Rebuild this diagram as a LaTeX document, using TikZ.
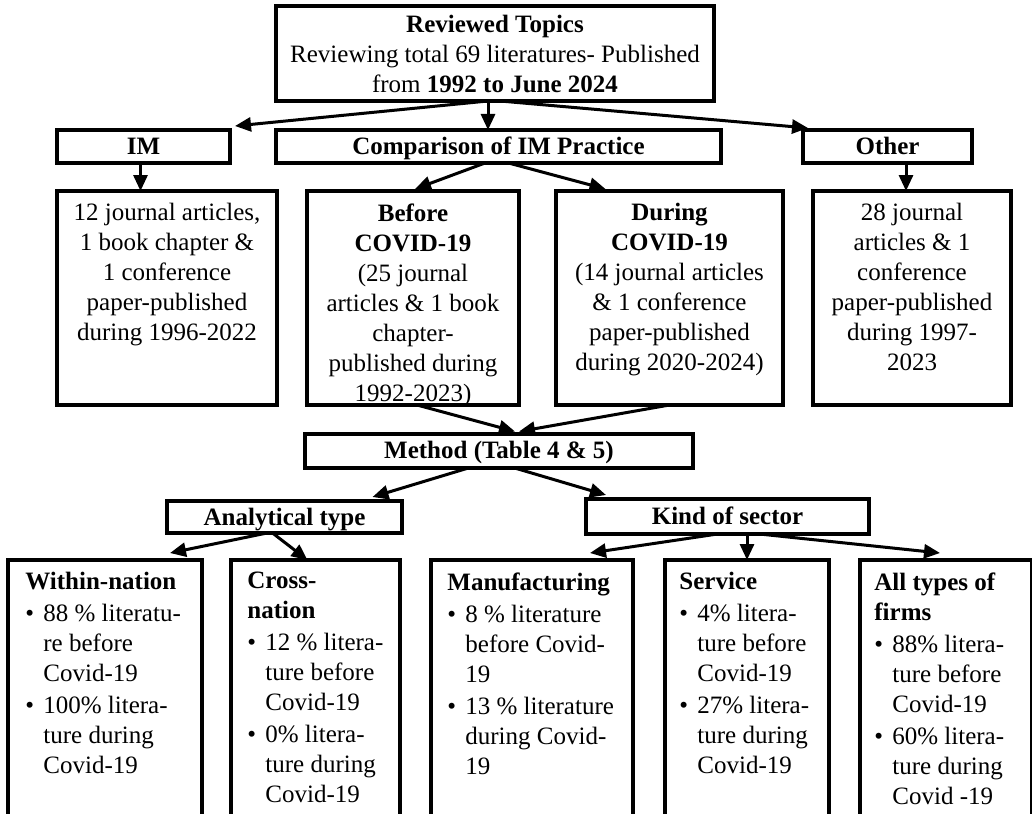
\documentclass[tikz,border=0pt]{standalone}
\usepackage{fontspec}
\setmainfont{Liberation Serif}
\usetikzlibrary{arrows.meta,calc}
\newcommand\bul{\makebox[9pt][l]{\textbullet}}
\newcommand\ind{\hspace*{9pt}}
\begin{document}
\begin{tikzpicture}[x=0.5pt,y=-0.5pt,
 box/.style={draw,line width=2pt,inner sep=0pt,outer sep=0pt},
 arr/.style={line width=1.5pt,-{Triangle[length=8pt,width=7pt]}},
 txt/.style={font=\fontsize{12.5}{15}\selectfont,align=center,inner sep=0pt},
 one/.style={txt,text height=8.3pt,text depth=0pt},
 ltxt/.style={font=\fontsize{12.5}{15}\selectfont,align=left,inner sep=0pt,anchor=north west},
 ctxt/.style={font=\fontsize{12.5}{15}\selectfont,align=center,inner sep=0pt,anchor=north},
]
\useasboundingbox (0,0) rectangle (1032,813);
\fill[white] (0,0) rectangle (1032,813);
\clip (0,0) rectangle (1032,813);

% level 0
\node[box,minimum width=219pt,minimum height=47.5pt] (top) at (495,53.5) {};
\node[txt] (toptxt) at (top) {\textbf{Reviewed Topics}\\Reviewing total 69 literatures- Published\\from \textbf{1992 to June 2024}};

% level 1
\node[box,minimum width=86.5pt,minimum height=16.5pt,one] (im) at (143.5,146.5) {\textbf{IM}};
\node[box,minimum width=222.5pt,minimum height=16.5pt,one] (comp) at (498.5,146.5) {\textbf{Comparison of IM Practice}};
\node[box,minimum width=84.5pt,minimum height=16.5pt,one] (other) at (887.5,146.5) {\textbf{Other}};

% level 2
\node[box,minimum width=110pt,minimum height=107pt] (imd) at (167,298) {};
\node[ctxt] (imdt) at ([yshift=-6pt]imd.north) {12 journal articles,\\1 book chapter \&\\1 conference\\paper-published\\during 1996-2022};
\node[box,minimum width=106pt,minimum height=107pt] (before) at (413,298) {};
\node[ctxt] (beforet) at ([yshift=-6pt]before.north) {\textbf{Before}\\\textbf{COVID-19}\\(25 journal\\articles \& 1 book\\chapter-\\published during\\1992-2023)};
\node[box,minimum width=113.5pt,minimum height=107pt] (during) at (669.5,298) {};
\node[ctxt] (duringt) at ([yshift=-6pt]during.north) {\textbf{During}\\\textbf{COVID-19}\\(14 journal articles\\\& 1 conference\\paper-published\\during 2020-2024)};
\node[box,minimum width=99pt,minimum height=107pt] (otherd) at (912,298) {};
\node[ctxt] (otherdt) at ([yshift=-6pt]otherd.north) {28 journal\\articles \& 1\\conference\\paper-published\\during 1997-\\2023};

% level 3
\node[box,minimum width=194pt,minimum height=17pt,one] (method) at (499,450.5) {\textbf{Method (Table 4 \& 5)}};

% level 4
\node[box,minimum width=117.5pt,minimum height=16pt,one] (anal) at (284.5,517) {\textbf{Analytical type}};
\node[box,minimum width=141.5pt,minimum height=17.5pt,one] (kind) at (727.5,516.5) {\textbf{Kind of sector}};

% level 5
\node[box,minimum width=97pt,minimum height=140pt] (within) at (105,700) {};
\node[ltxt] (withint) at ([xshift=8.5pt,yshift=-6pt]within.north west) {\textbf{Within-nation}\\[1pt]
\bul 88 \% literatu-\\\ind re before\\\ind Covid-19\\[1pt]
\bul 100\% litera-\\\ind ture during\\\ind Covid-19};
\node[box,minimum width=84.5pt,minimum height=140pt] (cross) at (315.5,700) {};
\node[ltxt] (crosst) at ([xshift=8pt,yshift=-6pt]cross.north west) {\textbf{Cross-}\\\textbf{nation}\\[1pt]
\bul 12 \% litera-\\\ind ture before\\\ind Covid-19\\[1pt]
\bul 0\% litera-\\\ind ture during\\\ind Covid-19};
\node[box,minimum width=101pt,minimum height=140pt] (manu) at (532,700) {};
\node[ltxt] (manut) at ([xshift=8pt,yshift=-6pt]manu.north west) {\textbf{Manufacturing}\\[1pt]
\bul 8 \% literature\\\ind before Covid-\\\ind 19\\[1pt]
\bul 13 \% literature\\\ind during Covid-\\\ind 19};
\node[box,minimum width=82pt,minimum height=140pt] (service) at (747,700) {};
\node[ltxt] (servicet) at ([xshift=7pt,yshift=-6pt]service.north west) {\textbf{Service}\\[1pt]
\bul 4\% litera-\\\ind ture before\\\ind Covid-19\\[1pt]
\bul 27\% litera-\\\ind ture during\\\ind Covid-19};
\node[box,minimum width=86pt,minimum height=140pt] (all) at (946,700) {};
\node[ltxt] (allt) at ([xshift=7pt,yshift=-6pt]all.north west) {\textbf{All types of}\\\textbf{firms}\\[1pt]
\bul 88\% litera-\\\ind ture before\\\ind Covid-19\\[1pt]
\bul 60\% litera-\\\ind ture during\\\ind Covid -19};

% connectors
\draw[arr] ([xshift=-3.5pt]top.south) -- ([xshift=2.5pt,yshift=2pt]im.north east);
\draw[arr] ([xshift=-3.5pt]top.south) -- ([xshift=-3.5pt]top.south |- comp.north);
\draw[arr] ([xshift=2.5pt]top.south) -- ([xshift=2.5pt,yshift=1pt]other.north west);
\draw[arr] ([xshift=-1.5pt]im.south) -- ([xshift=-1.5pt]im.south |- imd.north);
\draw[arr] ([xshift=-6.75pt]comp.south) -- ([xshift=1pt,yshift=1pt]before.north);
\draw[arr] ([xshift=5pt]comp.south) -- ([xshift=-32pt,yshift=1pt]during.north);
\draw[arr] ([xshift=-3pt]otherd.north |- other.south) -- ([xshift=-3pt]otherd.north);
\draw[arr] ([xshift=2pt]before.south) -- ([xshift=8pt,yshift=1pt]method.north);
\draw[arr] ([xshift=0pt]during.south) -- ([xshift=10pt,yshift=1pt]method.north);
\draw[arr] ([xshift=-14.5pt]method.south) -- ([xshift=44pt,yshift=2pt]anal.north);
\draw[arr] ([xshift=7pt]method.south) -- ([xshift=10pt,yshift=2pt]kind.north west);
\draw[arr] ([xshift=-8.75pt]anal.south) -- ([xshift=-16pt,yshift=3.5pt]within.north east);
\draw[arr] ([xshift=-6pt]anal.south) -- ([xshift=-4pt]cross.north);
\draw[arr] ([xshift=-5pt]kind.south) -- ([xshift=29pt,yshift=3.5pt]manu.north);
\draw[arr] (service.north |- kind.south) -- (service.north);
\draw[arr] ([xshift=16pt]kind.south) -- ([xshift=-3pt,yshift=3.5pt]all.north);
\end{tikzpicture}
\end{document}
